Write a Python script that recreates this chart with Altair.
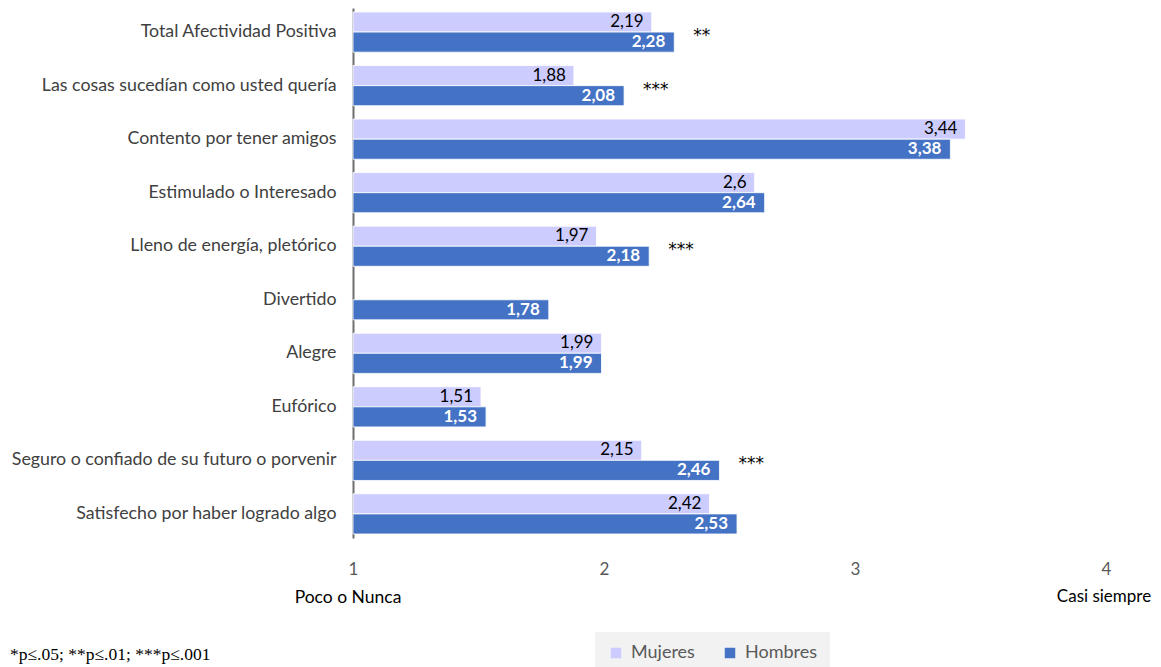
import altair as alt
import pandas as pd

categories = [
    "Total Afectividad Positiva",
    "Las cosas sucedían como usted quería",
    "Contento por tener amigos",
    "Estimulado o Interesado",
    "Lleno de energía, pletórico",
    "Divertido",
    "Alegre",
    "Eufórico",
    "Seguro o confiado de su futuro o porvenir",
    "Satisfecho por haber logrado algo",
]
mujeres = [2.19, 1.88, 3.44, 2.6, 1.97, None, 1.99, 1.51, 2.15, 2.42]
hombres = [2.28, 2.08, 3.38, 2.64, 2.18, 1.78, 1.99, 1.53, 2.46, 2.53]
stars = ["**", "***", "", "", "***", "", "", "", "***", ""]
series = ["Mujeres", "Hombres"]
colors = ["#ccccff", "#4472c4"]
x_ticks = [1, 2, 3, 4]
footnote = "*p≤.05; **p≤.01; ***p≤.001"

FONT = "Lato"

rows = []
for c, m, h in zip(categories, mujeres, hombres):
    if m is not None:
        rows.append({"cat": c, "serie": "Mujeres", "val": m})
    rows.append({"cat": c, "serie": "Hombres", "val": h})
df = pd.DataFrame(rows)
df["label"] = df["val"].map(lambda v: f"{v:g}".replace(".", ","))

sdf = pd.DataFrame({"cat": categories, "val": hombres, "star": stars})
sdf = sdf[sdf["star"] != ""]

W, H = 753, 530

xenc = alt.X(
    "val:Q",
    scale=alt.Scale(domain=[1, 4], zero=False, nice=False),
    axis=alt.Axis(values=x_ticks, title=None, domain=False, ticks=False, grid=False,
                  labelFontSize=17, labelColor="#595959", labelPadding=23,
                  labelFlush=False, format="d", labelFont=FONT),
)
yenc = alt.Y(
    "cat:N", sort=categories,
    scale=alt.Scale(paddingInner=0.25, paddingOuter=0.075),
    axis=alt.Axis(title=None, ticks=False, domainColor="#6f6f6f", domainWidth=2,
                  labelFontSize=17.8, labelColor="#404040", labelPadding=17,
                  labelFont=FONT, labelLimit=500),
)
yoff = alt.YOffset("serie:N", scale=alt.Scale(domain=series, paddingInner=0.0))

base = alt.Chart(df)

bars = base.mark_bar(stroke="white", strokeWidth=0.8).encode(
    x=xenc, x2=alt.datum(1), y=yenc, yOffset=yoff,
    color=alt.Color("serie:N", scale=alt.Scale(domain=series, range=colors),
                    legend=alt.Legend(title=None, orient="none", legendX=242, legendY=624,
                                      direction="horizontal", fillColor="#f2f2f2",
                                      padding=12, symbolType="square", symbolSize=110,
                                      symbolStrokeWidth=0, labelFontSize=18,
                                      labelColor="#595959", labelFont=FONT,
                                      columnPadding=26, labelOffset=6)),
)

lab_m = base.transform_filter(alt.datum.serie == "Mujeres").mark_text(
    align="right", baseline="middle", dx=-8, fontSize=17, color="black", font=FONT
).encode(x="val:Q", y=alt.Y("cat:N", sort=categories), yOffset=yoff, text="label:N")

lab_h = base.transform_filter(alt.datum.serie == "Hombres").mark_text(
    align="right", baseline="middle", dx=-9, fontSize=17, color="white",
    fontWeight="bold", font=FONT
).encode(x="val:Q", y=alt.Y("cat:N", sort=categories), yOffset=yoff, text="label:N")

star_layer = alt.Chart(sdf).mark_text(
    align="left", baseline="middle", dx=19, dy=4, fontSize=17, color="black",
    font="DejaVu Sans"
).encode(x="val:Q", y=alt.Y("cat:N", sort=categories), text="star:N")

ann = pd.DataFrame({"t": ["Poco o Nunca", "Casi siempre"], "v": [1, 4]})
ann_m = alt.Chart(ann.iloc[[0]]).mark_text(
    align="center", baseline="middle", dx=-5, fontSize=17.5, color="black", font=FONT
).encode(x="v:Q", y=alt.value(590), text="t:N")
ann_c = alt.Chart(ann.iloc[[1]]).mark_text(
    align="center", baseline="middle", dx=-2, fontSize=17, color="black", font=FONT
).encode(x="v:Q", y=alt.value(589), text="t:N")

foot_layer = alt.Chart(pd.DataFrame({"t": [footnote]})).mark_text(
    align="left", baseline="middle", fontSize=17.5, color="black", font="Liberation Serif"
).encode(x=alt.value(-343), y=alt.value(647), text="t:N")

chart = alt.layer(bars, lab_m, lab_h, star_layer, ann_m, ann_c, foot_layer).properties(
    width=W, height=H, padding={"top": 0, "left": 2, "right": 0, "bottom": 0}
).configure_view(stroke=None)

chart.save("out.html", embed_options={"renderer": "svg", "actions": False})
